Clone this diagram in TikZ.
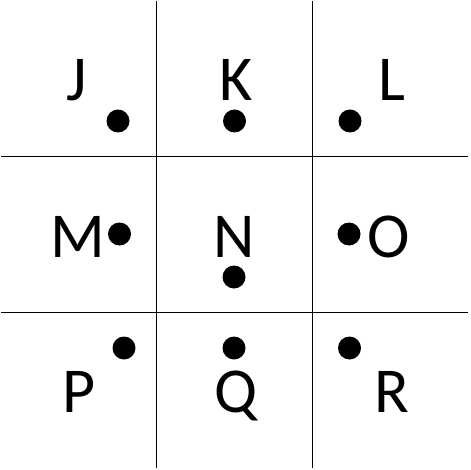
\documentclass[tikz,border=0pt]{standalone}
\usepackage{fontspec}
\setmainfont{Carlito}
\usepackage{tikz}
\tikzset{
	letter/.style={anchor=base, inner sep=0pt, font=\fontsize{32}{36}\selectfont},
	spot/.style={circle, fill=black, inner sep=0pt, minimum size=11.5pt},
	gridline/.style={line width=0.7pt},
}

\begin{document}
\begin{tikzpicture}[x=0.5pt, y=-0.5pt]
	\useasboundingbox (0,0) rectangle (470,470);
	\coordinate (v1t) at (156.7,1);
	\coordinate (v1b) at (156.7,468);
	\coordinate (v2t) at (312.7,1);
	\coordinate (v2b) at (312.7,468);
	\coordinate (h1l) at (1,156.7);
	\coordinate (h1r) at (468,156.7);
	\coordinate (h2l) at (1,312.7);
	\coordinate (h2r) at (468,312.7);
	%
	\draw [gridline] (v1t) -- (v1b);
	\draw [gridline] (v2t) -- (v2b);
	\draw [gridline] (h1l) -- (h1r);
	\draw [gridline] (h2l) -- (h2r);
	%
	\node [letter] (J) at (77,101) {J};
	\node [letter] (K) at (236,101) {K};
	\node [letter] (L) at (392,101) {L};
	\node [letter] (M) at (77.5,257) {M};
	\node [letter] (N) at (234,257) {N};
	\node [letter] (O) at (389,257) {O};
	\node [letter] (P) at (79.5,412) {P};
	\node [letter] (Q) at (236.5,412) {Q};
	\node [letter] (R) at (391.5,412) {R};
	%
	\node [spot] (dJ) at (118,121) {};
	\node [spot] (dK) at (234.5,121) {};
	\node [spot] (dL) at (350,121) {};
	\node [spot] (dM) at (119.5,234) {};
	\node [spot] (dN) at (234,277) {};
	\node [spot] (dO) at (349,234) {};
	\node [spot] (dP) at (124,348) {};
	\node [spot] (dQ) at (234,348) {};
	\node [spot] (dR) at (349.5,348) {};
\end{tikzpicture}
\end{document}
